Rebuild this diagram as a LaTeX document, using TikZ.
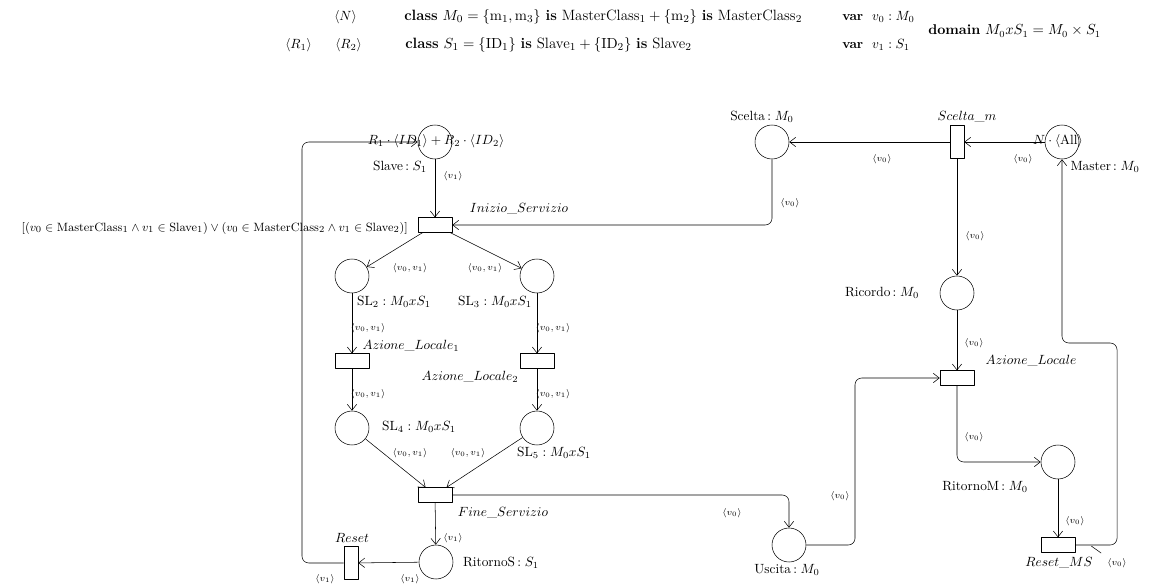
\documentclass[tikz,border=0pt]{standalone}
\usepackage{amsmath,amssymb}
\usetikzlibrary{calc,arrows.meta,positioning}
\tikzset{pnet/.style={
  x=0.75pt,y=-0.75pt,
  >={Straight Barb[length=4.5pt,width=7pt]},line join=round
},
place/.style={circle,draw,minimum size=25.5pt,inner sep=0pt},
trans/.style={draw,minimum width=25.5pt,minimum height=11pt,inner sep=0pt},
vtrans/.style={draw,minimum width=10.5pt,minimum height=24.5pt,inner sep=0pt},
arclbl/.style={font=\scriptsize,inner sep=0pt},
hdr/.style={anchor=west,inner sep=0pt}}

\begin{document}
\begin{tikzpicture}[pnet]
  \useasboundingbox (0,0) rectangle (1152,585);
  \node[hdr] (hN) at (334,17) {$\langle N\rangle$};
  \node[hdr,font=\fontsize{11.2}{13}\selectfont] (hC0) at (404,17) {\textbf{class} $M_0=\{\mathrm{m}_1,\mathrm{m}_3\}$ \textbf{is} MasterClass$_1+\{\mathrm{m}_2\}$ \textbf{is} MasterClass$_2$};
  \node[hdr] (hV0) at (842,17) {\textbf{var} \ $v_0:M_0$};
  \node[hdr] (hR1) at (285,45) {$\langle R_1\rangle$};
  \node[hdr] (hR2) at (335,45) {$\langle R_2\rangle$};
  \node[hdr,font=\fontsize{11.2}{13}\selectfont] (hC1) at (405,45) {\textbf{class} $S_1=\{\mathrm{ID}_1\}$ \textbf{is} Slave$_1+\{\mathrm{ID}_2\}$ \textbf{is} Slave$_2$};
  \node[hdr] (hV1) at (842,45) {\textbf{var} \ $v_1:S_1$};
  \node[hdr,font=\fontsize{10.6}{12}\selectfont] (hD) at (928,31) {\textbf{domain} $M_0xS_1=M_0\times S_1$};

  \node[place] (Slave) at (435,142) {};
  \node[trans] (Inizio) at (435,225) {};
  \node[place] (SL2) at (352,276) {};
  \node[place] (SL3) at (537,276) {};
  \node[trans] (AL1) at (352,361) {};
  \node[trans] (AL2) at (537,361) {};
  \node[place] (SL4) at (352,428) {};
  \node[place] (SL5) at (537,428) {};
  \node[trans] (Fine) at (435,495) {};
  \node[place] (RitornoS) at (436,562) {};
  \node[vtrans] (Reset) at (351,563) {};
  \node[place] (Scelta) at (772,142) {};
  \node[vtrans] (SceltaM) at (957,142) {};
  \node[place] (Master) at (1062,142) {};
  \node[place] (Ricordo) at (957,293) {};
  \node[trans] (AzLoc) at (957,378) {};
  \node[place] (RitornoM) at (1058,462) {};
  \node[trans] (ResetMS) at (1058,545) {};
  \node[place] (Uscita) at (789,545) {};
  \coordinate (lb) at (302,563);
  \coordinate (lt) at (302,142);
  \coordinate (uc) at (855,378);
  \coordinate (rc) at (1117,343);

  \draw[->] (Slave) -- (Inizio);
  \draw[->] (Inizio) -- (SL2);
  \draw[->] (Inizio) -- (SL3);
  \draw[->] (SL2) -- (AL1);
  \draw[->] (SL3) -- (AL2);
  \draw[->] (AL1) -- (SL4);
  \draw[->] (AL2) -- (SL5);
  \draw[->] (SL4) -- (Fine);
  \draw[->] (SL5) -- (Fine);
  \draw[->] (Fine) -- (RitornoS);
  \draw[->] (RitornoS) -- (Reset);
  \draw[->,rounded corners=5pt] (Reset) -- (lb) -- (lt) -- (Slave);
  \draw[->] (Master) -- (SceltaM);
  \draw[->] (SceltaM) -- (Scelta);
  \draw[->,rounded corners=5pt] (Scelta) |- (Inizio);
  \draw[->] (SceltaM) -- (Ricordo);
  \draw[->] (Ricordo) -- (AzLoc);
  \draw[->,rounded corners=5pt] (AzLoc) |- (RitornoM);
  \draw[->] (RitornoM) -- (ResetMS);
  \draw[->,rounded corners=5pt] (ResetMS) -| (rc) -| (Master);
  \draw[->,rounded corners=5pt] (Fine) -| (Uscita);
  \draw[->,rounded corners=5pt] (Uscita) -| (uc) -- (AzLoc);

  \node (SlaveTok) at (436,141) {$R_1\cdot\langle ID_1\rangle+R_2\cdot\langle ID_2\rangle$};
  \node (MasterTok) at (1058,141) {$N\cdot\langle\mathrm{All}\rangle$};
  \node (SlaveLbl) at (400,167) {Slave$\,:S_1$};
  \node (SL2Lbl) at (394,302) {SL$_2:M_0xS_1$};
  \node (SL3Lbl) at (495,302) {SL$_3:M_0xS_1$};
  \node (SL4Lbl) at (419,427) {SL$_4:M_0xS_1$};
  \node (SL5Lbl) at (554,453) {SL$_5:M_0xS_1$};
  \node (RitSLbl) at (501,563) {RitornoS$\,:S_1$};
  \node (UscLbl) at (787,570) {Uscita$\,:M_0$};
  \node (SceLbl) at (762,117) {Scelta$\,:M_0$};
  \node (MasLbl) at (1105,167) {Master$\,:M_0$};
  \node (RicLbl) at (882,293) {Ricordo$\,:M_0$};
  \node (RitMLbl) at (985,487) {RitornoM$\,:M_0$};
  \node (IniLbl) at (519,209) {$Inizio\_Servizio$};
  \node (FineLbl) at (503,513) {$Fine\_Servizio$};
  \node (AL1Lbl) at (411,346) {$Azione\_Locale_1$};
  \node (AL2Lbl) at (470,377) {$Azione\_Locale_2$};
  \node (ResetLbl) at (352,538) {$Reset$};
  \node (SceMLbl) at (967,117) {$Scelta\_m$};
  \node (AzLbl) at (1031,361) {$Azione\_Locale$};
  \node (RMSLbl) at (1059,563) {$Reset\_MS$};
  \node[anchor=east,font=\fontsize{9.5}{11}\selectfont,inner sep=0pt] (Guard) at (408,228) {$[(v_0\in\mathrm{MasterClass}_1\wedge v_1\in\mathrm{Slave}_1)\vee(v_0\in\mathrm{MasterClass}_2\wedge v_1\in\mathrm{Slave}_2)]$};

  \node[arclbl] (a1) at (453,176) {$\langle v_1\rangle$};
  \node[arclbl] (a2) at (410,268) {$\langle v_0,v_1\rangle$};
  \node[arclbl] (a3) at (485,268) {$\langle v_0,v_1\rangle$};
  \node[arclbl] (a4) at (368,328) {$\langle v_0,v_1\rangle$};
  \node[arclbl] (a5) at (553,328) {$\langle v_0,v_1\rangle$};
  \node[arclbl] (a6) at (368,394) {$\langle v_0,v_1\rangle$};
  \node[arclbl] (a7) at (553,394) {$\langle v_0,v_1\rangle$};
  \node[arclbl] (a8) at (410,453) {$\langle v_0,v_1\rangle$};
  \node[arclbl] (a9) at (468,453) {$\langle v_0,v_1\rangle$};
  \node[arclbl] (a10) at (453,538) {$\langle v_1\rangle$};
  \node[arclbl] (a11) at (325,579) {$\langle v_1\rangle$};
  \node[arclbl] (a12) at (410,579) {$\langle v_1\rangle$};
  \node[arclbl] (a13) at (732,513) {$\langle v_0\rangle$};
  \node[arclbl] (a14) at (840,496) {$\langle v_0\rangle$};
  \node[arclbl] (a15) at (790,203) {$\langle v_0\rangle$};
  \node[arclbl] (a16) at (882,159) {$\langle v_0\rangle$};
  \node[arclbl] (a17) at (1023,159) {$\langle v_0\rangle$};
  \node[arclbl] (a18) at (975,236) {$\langle v_0\rangle$};
  \node[arclbl] (a19) at (974,343) {$\langle v_0\rangle$};
  \node[arclbl] (a20) at (974,437) {$\langle v_0\rangle$};
  \node[arclbl] (a21) at (1075,521) {$\langle v_0\rangle$};
  \node[arclbl] (a22) at (1117,563) {$\langle v_0\rangle$};
  \draw ($(ResetMS.east)+(16,1)$) -- ($(a22.north west)+(-6,-5)$);
\end{tikzpicture}
\end{document}
